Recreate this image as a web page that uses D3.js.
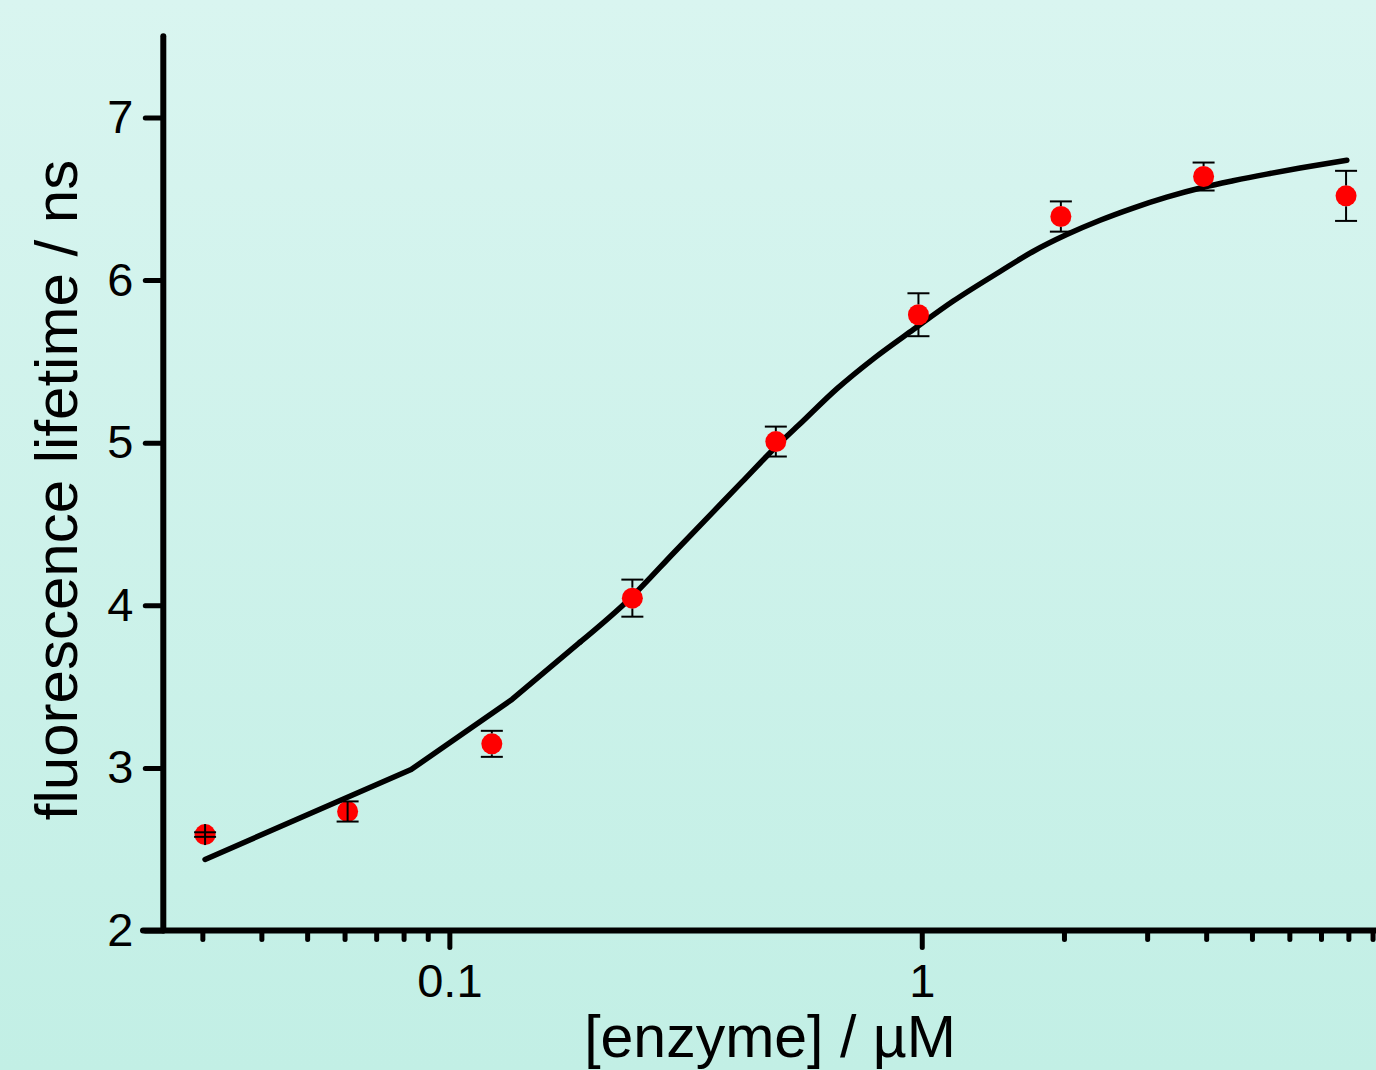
<!DOCTYPE html>
<html>
<head>
<meta charset="utf-8">
<script src="https://cdn.jsdelivr.net/npm/d3@7"></script>
<style>
  html, body { margin: 0; padding: 0; }
  body { width: 1376px; height: 1070px; overflow: hidden; }
  svg { display: block; font-family: "Liberation Sans", Arial, sans-serif; }
</style>
</head>
<body>
<svg id="chart"></svg>
<script>
// measured points: [enzyme] (µM) vs lifetime (ns)
const enzyme = [0.0304, 0.0609, 0.123, 0.244, 0.491, 0.984, 1.97, 3.95, 7.91];
const lifetime = [2.590, 2.732, 3.148, 4.044, 5.007, 5.787, 6.391, 6.637, 6.518];
const lifetimeErr = [0.014, 0.062, 0.080, 0.114, 0.092, 0.132, 0.093, 0.086, 0.154];

// fitted curve
const fitX = [0.0304, 0.0830, 0.1357, 0.1891, 0.2413, 0.3004, 0.4159, 0.4909, 0.5527, 0.6608,
  0.7898, 0.960, 1.166, 1.465, 1.720, 2.027, 2.385, 2.801, 3.301, 3.946, 4.560, 5.374, 6.322, 7.94];
const fitY = [2.437, 2.990, 3.421, 3.773, 4.042, 4.331, 4.757, 4.974, 5.116, 5.331,
  5.516, 5.696, 5.871, 6.053, 6.176, 6.280, 6.368, 6.443, 6.510, 6.571, 6.611, 6.652, 6.689, 6.737];

const xMajorTicks = [0.1, 1];
const xMinorTicks = [0.03, 0.04, 0.05, 0.06, 0.07, 0.08, 0.09, 2, 3, 4, 5, 6, 7, 8, 9];
const yTicks = [2, 3, 4, 5, 6, 7];

const width = 1376, height = 1070;
const x0 = 163.3, y0 = 930.5, decade = 472.4;
const xMin = 0.0248, xMax = 9.6;

const svg = d3.select("#chart")
  .attr("width", width)
  .attr("height", height);

const defs = svg.append("defs");
const grad = defs.append("linearGradient")
  .attr("id", "bg").attr("x1", 0).attr("y1", 0).attr("x2", 0).attr("y2", 1);
grad.append("stop").attr("offset", "0%").attr("stop-color", "#d9f5f0");
grad.append("stop").attr("offset", "100%").attr("stop-color", "#c2efe5");

svg.append("rect")
  .attr("width", width).attr("height", height)
  .attr("fill", "url(#bg)");

let xScale = d3.scaleLog()
  .domain([xMin, xMax])
  .range([x0, x0 + decade * Math.log10(xMax / xMin)]);

let yScale = d3.scaleLinear()
  .domain([2, 7.5])
  .range([y0, y0 - 162.6 * 5.5]);

// fit line: straight segments at the low end, smooth after
let fitData = fitX.map(function (v, i) { return [v, fitY[i]]; });

let lineLin = d3.line()
  .x(function (d) { return xScale(d[0]); })
  .y(function (d) { return yScale(d[1]); })
  .curve(d3.curveLinear);

let lineSmooth = d3.line()
  .x(function (d) { return xScale(d[0]); })
  .y(function (d) { return yScale(d[1]); })
  .curve(d3.curveMonotoneX);

[[fitData.slice(0, 4), lineLin], [fitData.slice(3), lineSmooth]].forEach(function (p) {
  svg.append("path")
    .datum(p[0])
    .attr("d", p[1])
    .attr("fill", "none")
    .attr("stroke", "#000")
    .attr("stroke-width", 5.5)
    .attr("stroke-linejoin", "round")
    .attr("stroke-linecap", "round");
});

// data points
const r = 10.5;
let pts = svg.append("g");
pts.selectAll(".dot")
  .data(enzyme)
  .enter().append("circle")
  .attr("class", "dot")
  .attr("cx", function (d) { return xScale(d); })
  .attr("cy", function (d, i) { return yScale(lifetime[i]); })
  .attr("r", r)
  .attr("fill", "#ff0000");

// error bars (drawn outside the marker like Origin)
let bars = svg.append("g")
  .attr("stroke", "#000")
  .attr("stroke-width", 2);

enzyme.forEach(function (d, i) {
  let cx = xScale(d), cy = yScale(lifetime[i]);
  let top = yScale(lifetime[i] + lifetimeErr[i]);
  let bot = yScale(lifetime[i] - lifetimeErr[i]);
  if (cy - top > r) {
    bars.append("line").attr("x1", cx).attr("x2", cx).attr("y1", top).attr("y2", cy - r);
    bars.append("line").attr("x1", cx).attr("x2", cx).attr("y1", cy + r).attr("y2", bot);
  } else {
    bars.append("line").attr("x1", cx).attr("x2", cx).attr("y1", cy - r).attr("y2", cy + r);
  }
  [top, bot].forEach(function (yy) {
    bars.append("line").attr("x1", cx - 11).attr("x2", cx + 11).attr("y1", yy).attr("y2", yy);
  });
});

// axes
let axisG = svg.append("g");

axisG.append("line")
  .attr("x1", 143).attr("x2", width + 10)
  .attr("y1", y0).attr("y2", y0)
  .attr("stroke", "#000").attr("stroke-width", 6)
  .attr("stroke-linecap", "round");

axisG.append("line")
  .attr("x1", x0).attr("x2", x0)
  .attr("y1", yScale(7.5)).attr("y2", y0)
  .attr("stroke", "#000").attr("stroke-width", 6)
  .attr("stroke-linecap", "round");

axisG.append("g")
  .attr("transform", "translate(0," + y0 + ")")
  .call(d3.axisBottom(xScale)
    .tickValues(xMinorTicks)
    .tickSize(9)
    .tickFormat(""));

axisG.append("g")
  .attr("transform", "translate(0," + y0 + ")")
  .call(d3.axisBottom(xScale)
    .tickValues(xMajorTicks)
    .tickSize(17)
    .tickPadding(16)
    .tickFormat(d3.format("")));

axisG.append("g")
  .attr("transform", "translate(" + x0 + ",0)")
  .call(d3.axisLeft(yScale)
    .tickValues(yTicks)
    .tickSize(18)
    .tickPadding(12)
    .tickFormat(d3.format("d")));

axisG.selectAll(".domain").remove();
axisG.selectAll(".tick line")
  .attr("stroke", "#000")
  .attr("stroke-width", 5)
  .attr("stroke-linecap", "round");
axisG.selectAll(".tick text")
  .attr("fill", "#000")
  .style("font-size", "47px")
  .style("font-family", "'Liberation Sans', Arial, sans-serif");

// axis titles
svg.append("text")
  .attr("x", 770)
  .attr("y", 1057)
  .attr("text-anchor", "middle")
  .style("font-size", "59px")
  .attr("fill", "#000")
  .text("[enzyme] / µM");

svg.append("text")
  .attr("transform", "translate(77,490) rotate(-90)")
  .attr("text-anchor", "middle")
  .style("font-size", "60px")
  .attr("fill", "#000")
  .text("fluorescence lifetime / ns");
</script>
</body>
</html>
